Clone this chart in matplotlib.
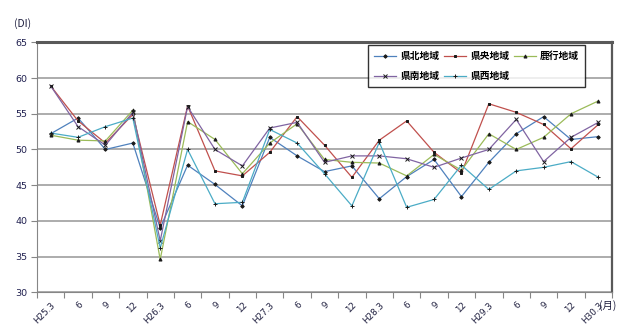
import numpy as np
import matplotlib.pyplot as plt

plt.rcParams['font.family'] = ['Noto Sans CJK JP', 'DejaVu Sans']

# Survey periods (quarterly)
periods = ['H25.3', '6', '9', '12', 'H26.3', '6', '9', '12', 'H27.3', '6', '9', '12',
           'H28.3', '6', '9', '12', 'H29.3', '6', '9', '12', 'H30.3']

# DI by region
kenpoku = [52.2, 54.4, 50.0, 50.9, 39.0, 47.8, 45.1, 42.1, 51.7, 49.1, 46.9,
           47.7, 43.1, 46.2, 48.6, 43.4, 48.2, 52.2, 54.6, 51.4, 51.8]
kenou = [58.9, 54.0, 50.9, 54.9, 39.4, 56.1, 47.0, 46.3, 49.6, 54.6, 50.6,
         46.1, 51.3, 54.0, 49.6, 46.7, 56.4, 55.2, 53.5, 50.1, 53.5]
rokko = [52.0, 51.3, 51.2, 55.5, 34.6, 53.9, 51.4, 46.6, 50.9, 53.6, 48.6,
         48.2, 48.1, 46.3, 49.3, 47.1, 52.2, 50.0, 51.7, 55.0, 56.8]
kennan = [58.9, 53.2, 50.6, 55.2, 37.2, 56.0, 50.0, 47.7, 53.0, 53.8, 48.2,
          49.1, 49.1, 48.7, 47.5, 48.8, 50.0, 54.2, 48.3, 51.7, 53.8]
kensei = [52.3, 51.7, 53.2, 54.4, 36.2, 50.0, 42.4, 42.6, 52.8, 50.9, 46.6,
          42.1, 51.0, 41.9, 43.0, 47.8, 44.4, 47.0, 47.5, 48.3, 46.1]

series = [
    ('県北地域', kenpoku, '#4F81BD', 'D', 1.8),
    ('県央地域', kenou, '#C0504D', 's', 2.0),
    ('鹿行地域', rokko, '#9BBB59', '^', 2.2),
    ('県南地域', kennan, '#8064A2', 'x', 2.6),
    ('県西地域', kensei, '#4BACC6', '+', 2.8),
]

fig = plt.figure(figsize=(6.31, 3.31), dpi=100)
ax = fig.add_axes([0.0586, 0.117, 0.9114, 0.755])

x = np.arange(len(periods))
lines = {}
for name, vals, color, mk, ms in series:
    ln, = ax.plot(x, vals, color=color, lw=0.9, marker=mk, ms=ms,
                  mfc='#1a1a1a', mec='#1a1a1a', mew=0.7, label=name)
    lines[name] = ln

ax.set_xlim(-0.5, len(periods) - 0.5)
ax.set_ylim(30, 65)
ax.set_yticks(range(30, 66, 5))
ax.yaxis.grid(True, color='#a6a6a6', lw=1.3)
ax.set_axisbelow(True)

# category ticks sit between points, labels on the points
ax.set_xticks(np.arange(-0.5, len(periods), 1))
ax.set_xticklabels([])
ax.set_xticks(x, minor=True)
ax.set_xticklabels(periods, minor=True, rotation=45, ha='right',
                   rotation_mode='anchor', fontsize=6.3, color='#1f1f3f',
                   family='DejaVu Sans')
ax.tick_params(axis='x', which='minor', length=0, pad=6)
ax.tick_params(axis='x', which='major', length=4, color='#868686', direction='out')
ax.tick_params(axis='y', length=4, color='#868686', labelsize=6.8,
               labelcolor='#1f1f4f', pad=3)
for lab in ax.get_yticklabels():
    lab.set_family('DejaVu Sans')

ax.spines['top'].set_color('#595959')
ax.spines['top'].set_linewidth(2.2)
ax.spines['right'].set_color('#595959')
ax.spines['right'].set_linewidth(1.6)
ax.spines['left'].set_color('#868686')
ax.spines['bottom'].set_color('#868686')

# legend filled column by column: 3 across, 2 down
order = ['県北地域', '県南地域', '県央地域', '県西地域', '鹿行地域']
leg = ax.legend([lines[k] for k in order], order, ncol=3, loc='upper left',
                bbox_to_anchor=(0.576, 0.82, 0.377, 0.168), mode='expand',
                borderaxespad=0, frameon=True, fancybox=False, edgecolor='black',
                handlelength=2.3, handletextpad=0.4, borderpad=0.6,
                labelspacing=1.0, columnspacing=0.8,
                prop={'weight': 'bold', 'size': 7})
leg.get_frame().set_linewidth(1.0)

fig.text(0.022, 0.928, '(DI)', fontsize=7.5, color='#1f1f3f', va='center')
fig.text(0.950, 0.077, '(月)', fontsize=7.5, color='#1f1f3f', va='center')

fig.savefig('out.png', dpi=100)
